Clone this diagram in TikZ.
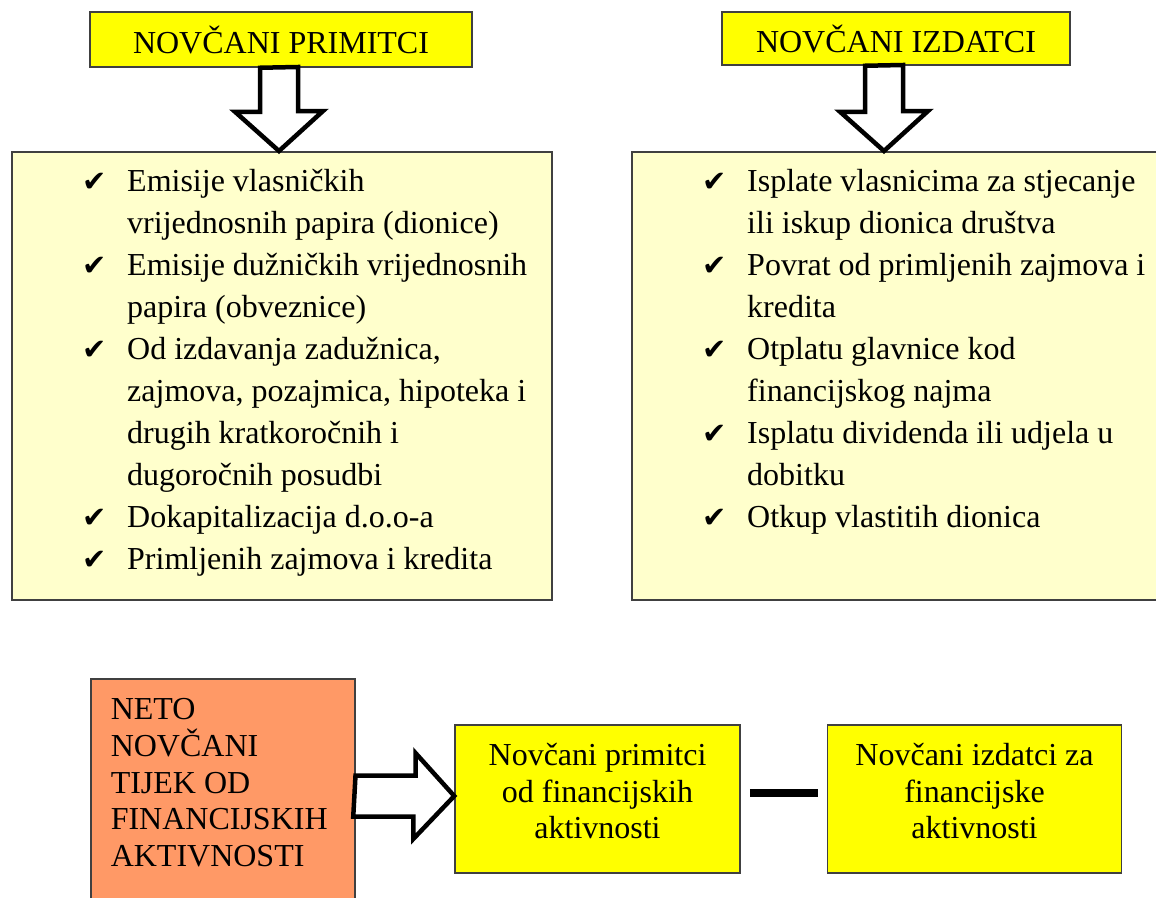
\documentclass[tikz,border=0pt]{standalone}
\usepackage{fontspec}
\setmainfont{Liberation Serif}
\newfontfamily\simboli{DejaVu Sans}
\usetikzlibrary{positioning,calc}

\definecolor{jakozuta}{HTML}{FFFF00}
\definecolor{blijedozuta}{HTML}{FFFFCC}
\definecolor{narancasta}{HTML}{FF9966}

\newcommand{\kvacica}{\makebox[45pt][l]{\simboli\fontsize{29}{29}\selectfont ✔}}

\tikzset{
  naslov/.style={draw=black!75, line width=1.5pt, fill=jakozuta, inner sep=0pt,
    font=\fontsize{32}{36}\selectfont},
  sadrzaj/.style={draw=black!75, line width=1.5pt, fill=blijedozuta, inner sep=0pt,
    minimum height=448pt, anchor=north west},
  popis/.style={inner sep=0pt, anchor=north west, font=\fontsize{32}{42}\selectfont},
  okvir/.style={draw=black!75, line width=1.5pt, fill=jakozuta, minimum height=148pt,
    align=center, text depth=16pt, font=\fontsize{32}{36.6}\selectfont},
  neto/.style={draw=black!75, line width=1.5pt, fill=narancasta, anchor=north west,
    inner xsep=20pt, inner ysep=20pt, font=\fontsize{32}{36.6}\selectfont},
  strelica/.style={draw=black, line width=4.5pt, fill=white, line join=miter},
  crtica/.style={draw=black, line width=8pt, shorten <=9pt, shorten >=9pt}
}

\begin{document}
\begin{tikzpicture}[x=1pt, y=-1pt]
\useasboundingbox (0,0) rectangle (1156,897);

% primitci
\node[naslov, minimum width=382pt, minimum height=55pt] (tp) at (281,39.5) {NOVČANI PRIMITCI};
\node[sadrzaj, minimum width=540pt] (pp) at (11,151) {};
\node[popis, below right=10.6pt and 71pt of pp.north west] (lp) {%
  \begin{tabular}{@{}l@{}l@{}}
    \kvacica & Emisije vlasničkih\\
             & vrijednosnih papira (dionice)\\
    \kvacica & Emisije dužničkih vrijednosnih\\
             & papira (obveznice)\\
    \kvacica & Od izdavanja zadužnica,\\
             & zajmova, pozajmica, hipoteka i\\
             & drugih kratkoročnih i\\
             & dugoročnih posudbi\\
    \kvacica & Dokapitalizacija d.o.o-a\\
    \kvacica & Primljenih zajmova i kredita
  \end{tabular}};

% izdatci
\node[naslov, minimum width=348pt, minimum height=53pt] (ti) at (896,38.5) {NOVČANI IZDATCI};
\node[sadrzaj, minimum width=530pt] (pi) at (631,151) {};
\node[popis, below right=10.6pt and 71pt of pi.north west] (li) {%
  \begin{tabular}{@{}l@{}l@{}}
    \kvacica & Isplate vlasnicima za stjecanje\\
             & ili iskup dionica društva\\
    \kvacica & Povrat od primljenih zajmova i\\
             & kredita\\
    \kvacica & Otplatu glavnice kod\\
             & financijskog najma\\
    \kvacica & Isplatu dividenda ili udjela u\\
             & dobitku\\
    \kvacica & Otkup vlastitih dionica
  \end{tabular}};

% strelice prema dolje
\coordinate (ap) at ($(tp.south)+(-2,0)$);
\draw[strelica] ($(ap)+(-19,0)$) -- ++(0,44) -- ++(-25,0) -- (ap |- pp.north)
  -- ++(44,-40) -- ++(-25,0) -- ++(0,-44) -- cycle;
\coordinate (ai) at ($(ti.south)+(-12,0)$);
\draw[strelica] ($(ai)+(-19,0)$) -- ++(0,46) -- ++(-25,0) -- (ai |- pi.north)
  -- ++(44,-40) -- ++(-25,0) -- ++(0,-46) -- cycle;

% neto tijek
\node[neto] (np) at (90,678) {\parbox[c][230pt][t]{224pt}{NETO\\NOVČANI\\TIJEK OD\\FINANCIJSKIH\\AKTIVNOSTI}};
\node[okvir, minimum width=285pt] (fp) at (597.5,799) {Novčani primitci\\od financijskih\\aktivnosti};
\node[okvir, minimum width=294pt, right=86pt of fp] (fi) {Novčani izdatci za\\financijske\\aktivnosti};

\coordinate (an) at ($(np.east |- fp.west)+(0,-3)$);
\draw[strelica] ($(an)+(0,-20.5)$) -- ++(60,0) -- ++(0,-22.5) -- (an -| fp.west)
  -- ++(-41,43) -- ++(0,-22.5) -- ++(-60,0) -- cycle;
\draw[crtica] ([yshift=6pt]fp.east) -- ([yshift=6pt]fi.west);
\end{tikzpicture}
\end{document}
